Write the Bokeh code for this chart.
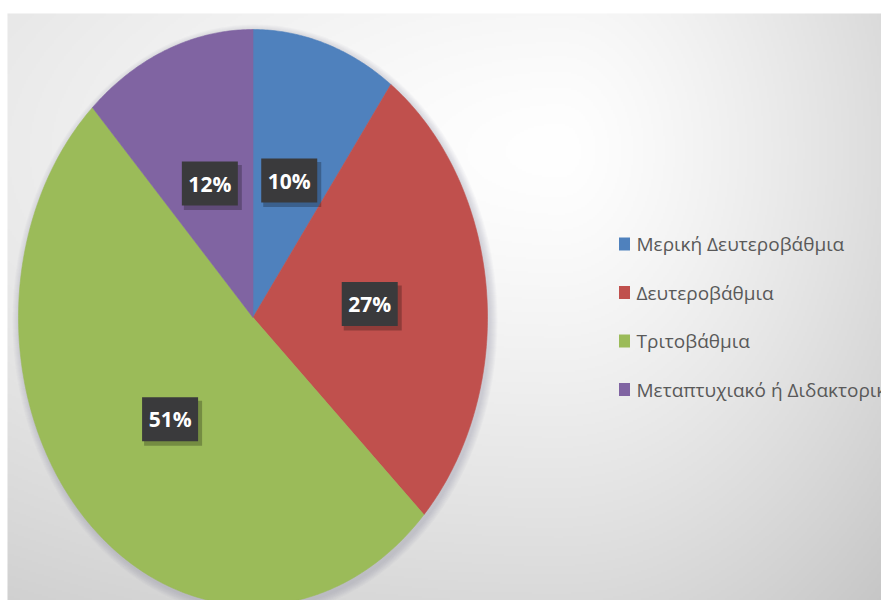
import numpy as np
from bokeh.plotting import figure
from bokeh.models import Range1d, ColumnDataSource
from bokeh.embed import file_html
from bokeh.resources import INLINE
from bokeh.core.properties import value

# ---- data ----
categories = ["Μερική Δευτεροβάθμια", "Δευτεροβάθμια", "Τριτοβάθμια", "Μεταπτυχιακό ή Διδακτορικό"]
shares = [10, 27, 51, 12]
labels = ["10%", "27%", "51%", "12%"]
colors = ["#4f81bd", "#c0504d", "#9bbb59", "#8064a2"]

# ---- layout ----
W, H = 881, 600
BG_TOP = 587
BG_LEFT = 7
CX, CY, RX, RY = 252.5, 283.0, 234.5, 288.0
LABEL_R = 0.5

p = figure(width=W, height=H, x_range=Range1d(0, W), y_range=Range1d(0, H),
           output_backend="svg", toolbar_location=None, min_border=0)
p.axis.visible = False
p.grid.visible = False
p.outline_line_color = None
p.background_fill_color = "white"
p.border_fill_color = "white"

# ---- background gradient (style) ----
bw = W - BG_LEFT
ny, nx = BG_TOP // 2, bw // 2
gx = np.linspace(BG_LEFT, W, nx)
gy = np.linspace(0, BG_TOP, ny)
GX, GY = np.meshgrid(gx, gy)
ddx = GX - 560.0
ddx = np.where(ddx < 0, ddx * 0.5, ddx * 1.3)
ddy = GY - 450.0
dist = np.hypot(ddx, ddy)
shade = np.clip(255 - 50 * (dist / 560.0) ** 1.3, 190, 255).astype(np.uint8)
img = np.empty((ny, nx), dtype=np.uint32)
view = img.view(dtype=np.uint8).reshape((ny, nx, 4))
view[..., 0] = shade
view[..., 1] = shade
view[..., 2] = shade
view[..., 3] = 255
p.image_rgba(image=[img], x=BG_LEFT, y=0, dw=bw, dh=BG_TOP)

# ---- pie shadow ----
for k in range(1, 9):
    p.ellipse(x=CX + 2, y=CY - 3, width=2 * RX + 2 * k, height=2 * RY + 2 * k,
              fill_color="#6e6e88", fill_alpha=0.035, line_color=None)

# ---- pie slices ----
fr = np.array(shares, dtype=float) / sum(shares)
ends = np.cumsum(fr)
starts = ends - fr
xs_list, ys_list, lx, ly = [], [], [], []
for s, e in zip(starts, ends):
    t = np.linspace(s, e, max(int((e - s) * 600), 10))
    th = np.pi / 2 - 2 * np.pi * t
    xs_list.append([CX] + list(CX + RX * np.cos(th)))
    ys_list.append([CY] + list(CY + RY * np.sin(th)))
    m = np.pi / 2 - 2 * np.pi * (s + e) / 2
    lx.append(CX + LABEL_R * RX * np.cos(m))
    ly.append(CY + LABEL_R * RY * np.sin(m))

p.patches(xs=xs_list, ys=ys_list, fill_color=colors, line_color=colors, line_width=0.6)

# ---- data labels ----
src = ColumnDataSource(dict(x=lx, y=ly, text=labels))
p.rect(x=[v + 3 for v in lx], y=[v - 4 for v in ly], width=58, height=45,
       width_units="screen", height_units="screen",
       fill_color="black", fill_alpha=0.25, line_color=None)
p.rect(x="x", y="y", width=56, height=44, width_units="screen", height_units="screen",
       fill_color="#3a3a3c", line_color=None, source=src)
p.text(x="x", y="y", text="text", source=src, text_font=value("Open Sans"),
       text_font_size="21px", text_font_style="bold", text_color="white",
       text_align="center", text_baseline="middle")

# ---- legend ----
LEG_Y0, LEG_DY = 356.5, 48.5
leg_y = [LEG_Y0 - i * LEG_DY for i in range(len(categories))]
p.rect(x=[624] * len(categories), y=leg_y, width=11, height=13,
       width_units="screen", height_units="screen", fill_color=colors, line_color=None)
p.text(x=[636] * len(categories), y=leg_y, text=categories, text_font=value("Open Sans"),
       text_font_size="19px", text_color="#595959", text_align="left", text_baseline="middle")

open("out.html", "w").write(file_html(p, INLINE))
